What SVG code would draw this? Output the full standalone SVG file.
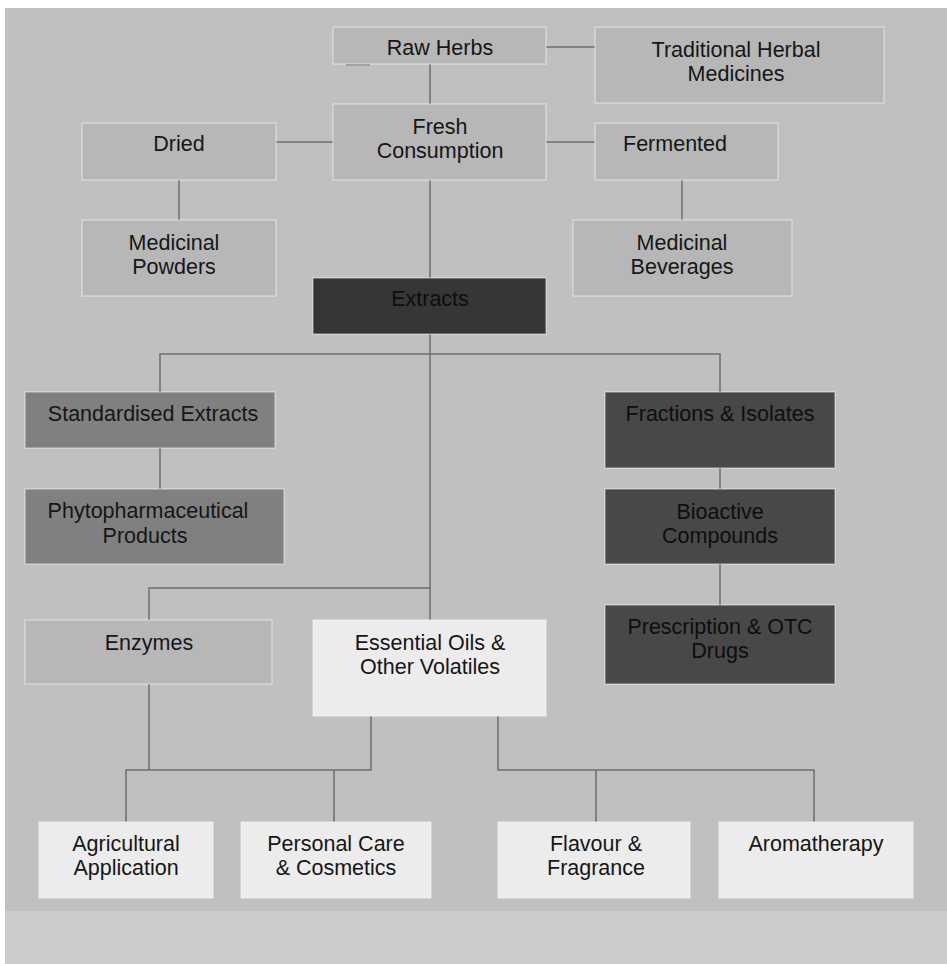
<svg xmlns="http://www.w3.org/2000/svg" width="947" height="964" viewBox="0 0 947 964">
  <style>
    .box { stroke: #ffffff; stroke-opacity: 0.4; stroke-width: 1.5; }
    .pale { fill: #b7b7b7; }
    .mid { fill: #808080; }
    .dark { fill: #484848; }
    .darkest { fill: #363636; }
    .light { fill: #ececec; }
    .conn line, .conn polyline { stroke: #6e6e6e; stroke-width: 1.5; fill: none; }
    text { font-family: "Liberation Sans", Arial, sans-serif; font-size: 21.5px; fill: #161616; text-anchor: middle; }
    .on-dark { fill: #0e0e0e; }
  </style>

  <!-- page background -->
  <rect x="0" y="0" width="947" height="964" fill="#ffffff"/>
  <rect x="5" y="8" width="942" height="903" fill="#c0c0c0"/>
  <rect x="5" y="911" width="942" height="53" fill="#cccccc"/>

  <!-- connectors -->
  <g id="connectors" class="conn">
    <line x1="546" y1="47" x2="595" y2="47"/>
    <line x1="430" y1="64" x2="430" y2="104"/>
    <line x1="276" y1="142" x2="333" y2="142"/>
    <line x1="546" y1="142" x2="595" y2="142"/>
    <line x1="179" y1="180" x2="179" y2="220"/>
    <line x1="682" y1="180" x2="682" y2="220"/>
    <line x1="430" y1="180" x2="430" y2="278"/>
    <line x1="430" y1="334" x2="430" y2="620"/>
    <polyline points="160,392 160,354 720,354 720,392"/>
    <line x1="160" y1="448" x2="160" y2="489"/>
    <line x1="720" y1="468" x2="720" y2="489"/>
    <line x1="720" y1="564" x2="720" y2="605"/>
    <polyline points="430,588 149,588 149,620"/>
    <line x1="149" y1="684" x2="149" y2="770"/>
    <polyline points="371,716 371,770 126,770 126,822"/>
    <line x1="334" y1="770" x2="334" y2="822"/>
    <polyline points="498,716 498,770 814,770 814,822"/>
    <line x1="596" y1="770" x2="596" y2="822"/>
  </g>

  <g id="raw-herbs">
    <rect class="box pale" x="333" y="27" width="213" height="37"/>
    <line x1="346" y1="65" x2="370" y2="65" stroke="#a2a2a2" stroke-width="2"/>
    <text x="440" y="55">Raw Herbs</text>
  </g>
  <g id="traditional-herbal-medicines">
    <rect class="box pale" x="595" y="27" width="289" height="76"/>
    <text x="736" y="57">Traditional Herbal</text>
    <text x="736" y="81">Medicines</text>
  </g>
  <g id="fresh-consumption">
    <rect class="box pale" x="333" y="104" width="213" height="76"/>
    <text x="440" y="134">Fresh</text>
    <text x="440" y="158">Consumption</text>
  </g>
  <g id="dried">
    <rect class="box pale" x="82" y="123" width="194" height="57"/>
    <text x="179" y="151">Dried</text>
  </g>
  <g id="fermented">
    <rect class="box pale" x="595" y="123" width="183" height="57"/>
    <text x="675" y="151">Fermented</text>
  </g>
  <g id="medicinal-powders">
    <rect class="box pale" x="82" y="220" width="194" height="76"/>
    <text x="174" y="250">Medicinal</text>
    <text x="174" y="274">Powders</text>
  </g>
  <g id="medicinal-beverages">
    <rect class="box pale" x="573" y="220" width="219" height="76"/>
    <text x="682" y="250">Medicinal</text>
    <text x="682" y="274">Beverages</text>
  </g>
  <g id="extracts">
    <rect class="box darkest" x="313" y="278" width="233" height="56"/>
    <text class="on-dark" x="430" y="306">Extracts</text>
  </g>
  <g id="standardised-extracts">
    <rect class="box mid" x="25" y="392" width="250" height="56"/>
    <text x="153" y="421">Standardised Extracts</text>
  </g>
  <g id="phytopharmaceutical-products">
    <rect class="box mid" x="25" y="489" width="259" height="75"/>
    <text x="148" y="518">Phytopharmaceutical</text>
    <text x="145" y="543">Products</text>
  </g>
  <g id="fractions-isolates">
    <rect class="box dark" x="605" y="392" width="230" height="76"/>
    <text class="on-dark" x="720" y="421">Fractions &amp; Isolates</text>
  </g>
  <g id="bioactive-compounds">
    <rect class="box dark" x="605" y="489" width="230" height="75"/>
    <text class="on-dark" x="720" y="519">Bioactive</text>
    <text class="on-dark" x="720" y="543">Compounds</text>
  </g>
  <g id="prescription-otc-drugs">
    <rect class="box dark" x="605" y="605" width="230" height="79"/>
    <text class="on-dark" x="720" y="634">Prescription &amp; OTC</text>
    <text class="on-dark" x="720" y="658">Drugs</text>
  </g>
  <g id="enzymes">
    <rect class="box pale" x="25" y="620" width="247" height="64"/>
    <text x="149" y="650">Enzymes</text>
  </g>
  <g id="essential-oils">
    <rect class="box light" x="313" y="620" width="233" height="96"/>
    <text x="430" y="650">Essential Oils &amp;</text>
    <text x="430" y="674">Other Volatiles</text>
  </g>
  <g id="agricultural-application">
    <rect class="box light" x="39" y="822" width="174" height="76"/>
    <text x="126" y="851">Agricultural</text>
    <text x="126" y="875">Application</text>
  </g>
  <g id="personal-care-cosmetics">
    <rect class="box light" x="241" y="822" width="190" height="76"/>
    <text x="336" y="851">Personal Care</text>
    <text x="336" y="875">&amp; Cosmetics</text>
  </g>
  <g id="flavour-fragrance">
    <rect class="box light" x="498" y="822" width="192" height="76"/>
    <text x="596" y="851">Flavour &amp;</text>
    <text x="596" y="875">Fragrance</text>
  </g>
  <g id="aromatherapy">
    <rect class="box light" x="719" y="822" width="194" height="76"/>
    <text x="816" y="851">Aromatherapy</text>
  </g>
</svg>
